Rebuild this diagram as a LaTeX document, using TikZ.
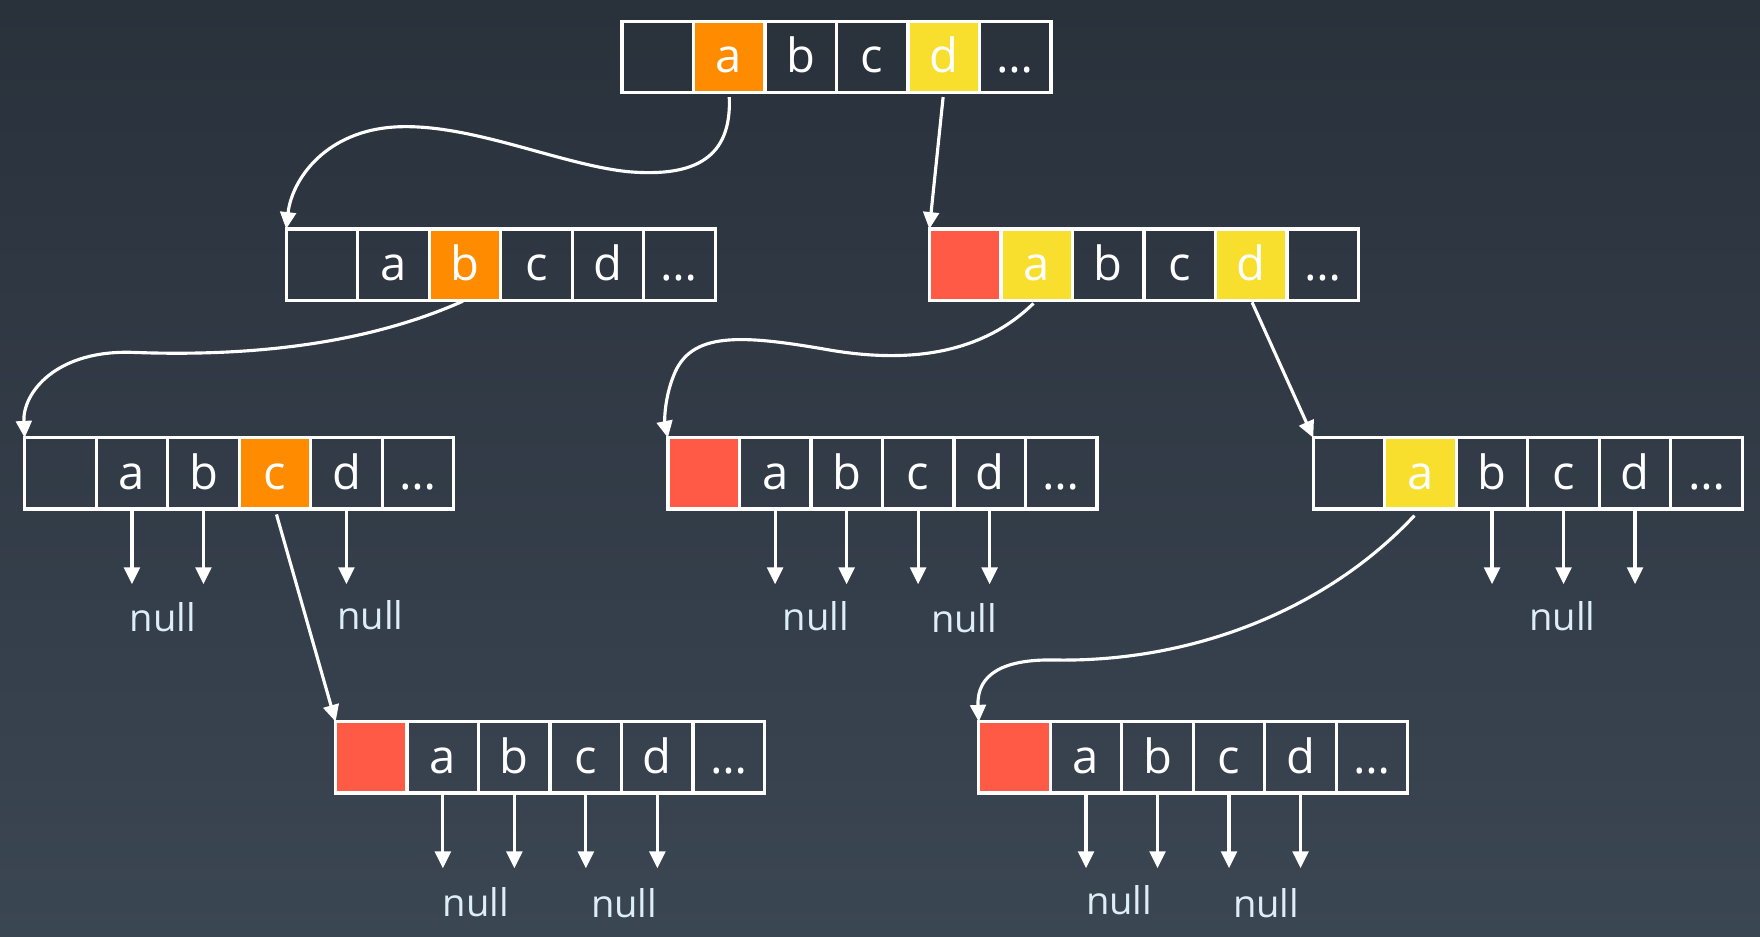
\documentclass[tikz,border=0pt]{standalone}
\usepackage{fontspec}
\setmainfont{Open Sans}
\usetikzlibrary{arrows.meta,calc}
\definecolor{bgtop}{RGB}{41,49,59}
\definecolor{bgbot}{RGB}{59,70,83}
\definecolor{orng}{RGB}{255,140,0}
\definecolor{yel}{RGB}{248,223,45}
\definecolor{redc}{RGB}{255,90,70}
\definecolor{nullc}{RGB}{222,238,246}
\tikzset{
	cell/.style={draw=white, line width=3pt, minimum width=63.7pt, minimum height=63.5pt, inner sep=0pt, outer sep=0pt, anchor=north west, text=white, font=\fontsize{42}{44}\selectfont, text height=28pt, text depth=0pt},
	ptr/.style={draw=white, line width=2.8pt, -{Triangle[length=15pt,width=14pt]}},
	nul/.style={text=nullc, font=\fontsize{34}{36}\selectfont},
}
\newcommand\slots[9]{\foreach \t/\f [count=\i from 0] in {{}/#4,a/#5,b/#6,c/#7,d/#8,{\ldots}/#9} \node[cell, fill=\f] (#1\i) at ({#2+\i*63.7},#3) {\t};}

\begin{document}
\begin{tikzpicture}[x=1pt, y=-1pt]
				\fill[top color=bgtop, bottom color=bgbot] (0,0) rectangle (1568,834);
				
				\slots{A0}{554}{19}{none}{orng}{none}{none}{yel}{none}
				\slots{A1}{255}{204}{none}{none}{orng}{none}{none}{none}
				\slots{A2}{828}{204}{redc}{yel}{none}{none}{yel}{none}
				\slots{A3}{22}{390}{none}{none}{none}{orng}{none}{none}
				\slots{A4}{595}{390}{redc}{none}{none}{none}{none}{none}
				\slots{A5}{1170}{390}{none}{yel}{none}{none}{none}{none}
				\slots{A6}{299}{643}{redc}{none}{none}{none}{none}{none}
				\slots{A7}{872}{643}{redc}{none}{none}{none}{none}{none}
				
				\draw[ptr, shorten <=4pt] (A01.south) .. controls (652,140) and (620,158) .. (560,153) .. controls (500,147) and (420,110) .. (354,113) .. controls (290,116) and (260,160) .. (A10.north west);
				\draw[ptr, shorten <=4pt] (A04.south) -- (A20.north west);
				
				\draw[ptr, shorten <=2pt] (A12.south) .. controls (330,305) and (230,318) .. (120,314) .. controls (50,311) and (20,350) .. (A30.north west);
				\draw[ptr, shorten <=4pt] (A21.south) .. controls (870,320) and (800,322) .. (740,312) .. controls (660,298) and (615,295) .. (600,335) .. controls (592,355) and (592,375) .. (A40.north west);
				\draw[ptr, shorten <=2pt] (A24.south) -- (A50.north west);
				
				\draw[ptr, shorten <=5pt] (A33.south) -- (A60.north west);
				\draw[ptr, shorten <=8pt] (A51.south) .. controls (1180,545) and (1060,590) .. (940,588) .. controls (895,587) and (870,600) .. (A70.north west);
				
				\foreach \c in {1,2,4} \draw[ptr] (A3\c.south) -- ++(0,67);
				\foreach \c in {1,2,3,4} \draw[ptr] (A4\c.south) -- ++(0,67);
				\foreach \c in {2,3,4} \draw[ptr] (A5\c.south) -- ++(0,67);
				\foreach \c in {1,2,3,4} \draw[ptr] (A6\c.south) -- ++(0,67);
				\foreach \c in {1,2,3,4} \draw[ptr] (A7\c.south) -- ++(0,67);
				
				\node[nul] (n1) at (145,550) {null};
				\node[nul] (n2) at (330,548) {null};
				\node[nul] (n3) at (727,549) {null};
				\node[nul] (n4) at (859,551) {null};
				\node[nul] (n5) at (1392,549) {null};
				\node[nul] (n6) at (424,804) {null};
				\node[nul] (n7) at (556,805) {null};
				\node[nul] (n8) at (997,802) {null};
				\node[nul] (n9) at (1128,805) {null};
\end{tikzpicture}
\end{document}
